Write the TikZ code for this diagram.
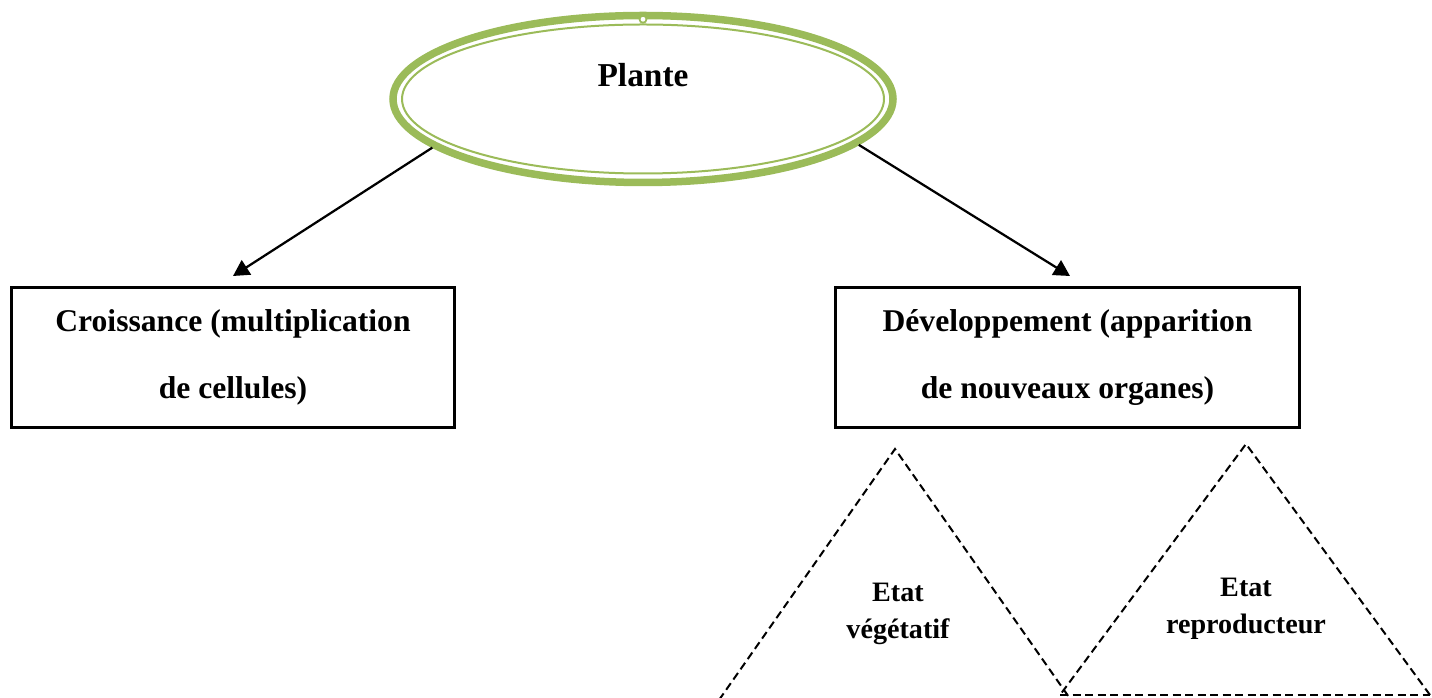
\documentclass[tikz,border=0pt]{standalone}
\usepackage{fontspec}
\setmainfont{Liberation Serif}
\usetikzlibrary{arrows.meta,positioning,shapes.geometric}
\definecolor{leafgreen}{HTML}{9BBB59}

\begin{document}
\begin{tikzpicture}[font=\bfseries,
  box/.style={draw,line width=0.06cm,minimum height=2.80cm,align=center,font=\bfseries\fontsize{18}{38}\selectfont},
  tri/.style={dash pattern=on 0.16cm off 0.09cm,line width=0.04cm},
  lbl/.style={align=center,font=\bfseries\fontsize{16}{21}\selectfont},
  ar/.style={-{Triangle[length=0.32cm,width=0.34cm]},line width=0.045cm}]
\useasboundingbox (0,0) rectangle (28.64,13.94);
% plant ellipse, thick ring with a thin one inside
\node[ellipse,draw=leafgreen,line width=0.15cm,minimum width=10.0cm,minimum height=3.34cm] (plante) at (12.86,11.96) {};
\draw[leafgreen,line width=0.04cm] (plante.center) ellipse [x radius=4.82cm,y radius=1.49cm];
\draw[leafgreen,line width=0.035cm,fill=white] ([yshift=-0.15cm]plante.north) circle (0.07cm);
\node[font=\bfseries\fontsize{19}{23}\selectfont] (titre) at ([yshift=0.48cm]plante.center) {Plante};
% the two branches
\node[box,minimum width=8.86cm] (crois) at (4.66,6.79) {Croissance (multiplication\\de cellules)};
\node[box,minimum width=9.28cm] (dev) at (21.35,6.79) {Développement (apparition\\de nouveaux organes)};
\draw[ar] (plante.193) -- ([yshift=0.2cm]crois.north);
\draw[ar] (plante.-12) -- ([xshift=0.05cm,yshift=0.2cm]dev.north);
% states below the development box
\coordinate (t1top) at (17.90,4.96);
\coordinate (t1l) at (14.38,-0.06);
\coordinate (t1r) at (21.42,-0.06);
\coordinate (t2top) at (24.92,5.06);
\coordinate (t2l) at (21.20,0.04);
\coordinate (t2r) at (28.60,0.04);
\draw[tri] (t1l) -- (t1top) -- (t1r) -- cycle;
\draw[tri] (t2r) -- (t2top) -- (t2l);
\draw[tri,line width=0.055cm] (t2l) -- (t2r);
\node[lbl] (veg) at (17.96,1.66) {Etat\\végétatif};
\node[lbl] (repro) at (24.92,1.76) {Etat\\reproducteur};
\end{tikzpicture}
\end{document}
